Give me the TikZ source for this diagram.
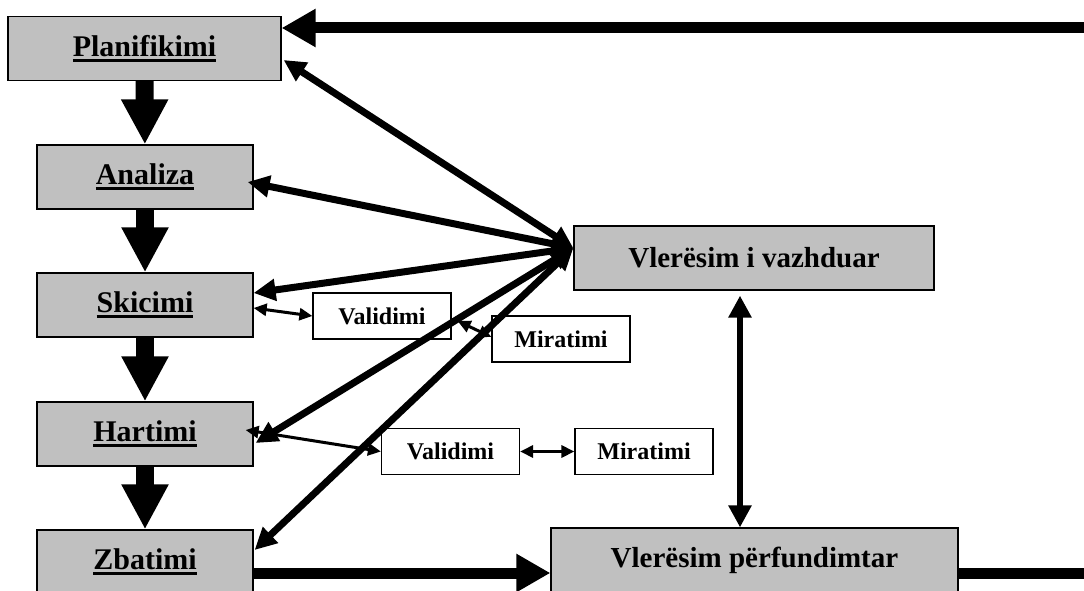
\documentclass[tikz,border=0pt]{standalone}
\usepackage{fontspec}
\setmainfont{Liberation Serif}
\usepackage{tikz}
\usetikzlibrary{arrows.meta}
\definecolor{boxgray}{rgb}{0.753, 0.753, 0.753}
\newcommand{\ulphase}[1]{\setbox0=\hbox{#1}\rlap{\copy0}\rule[-6pt]{\wd0}{3pt}}
\tikzstyle{phasebox}=[draw, line width=1.2pt, fill=boxgray, minimum height=64pt, inner sep=0pt, font=\fontsize{30}{36}\selectfont\bfseries]
\tikzstyle{evalbox}=[phasebox, font=\fontsize{29}{35}\selectfont\bfseries]
\tikzstyle{checkbox}=[draw, line width=1.2pt, fill=white, minimum width=138pt, minimum height=46pt, inner sep=0pt, font=\fontsize{24}{29}\selectfont\bfseries]
\tikzstyle{downarrow}=[line width=18pt, -{Triangle[width=44pt,length=45pt]}]
\tikzstyle{loopline}=[line width=11pt]
\tikzstyle{looparrow}=[loopline, -{Triangle[width=36pt,length=34pt]}]
\tikzstyle{evalarrow}=[line width=7pt, {Triangle[width=21pt,length=22pt]}-{Triangle[width=21pt,length=22pt]}]
\tikzstyle{vertarrow}=[line width=6pt, {Triangle[width=22pt,length=22pt]}-{Triangle[width=22pt,length=22pt]}]
\tikzstyle{checkarrow}=[line width=3pt, {Triangle[width=12pt,length=13pt]}-{Triangle[width=12pt,length=13pt]}]

\begin{document}
\begin{tikzpicture}[x=1pt,y=-1pt]

\useasboundingbox (0,0) rectangle (1084,591);
\clip (0,0) rectangle (1084,591);

\node[phasebox, minimum width=273pt] (plan) at (144.5,48.5) {\ulphase{Planifikimi}};
\node[phasebox, minimum width=216pt] (anal) at (145,177) {\ulphase{Analiza}};
\node[phasebox, minimum width=216pt] (skic) at (145,305) {\ulphase{Skicimi}};
\node[phasebox, minimum width=216pt] (hart) at (145,434) {\ulphase{Hartimi}};
\node[phasebox, minimum width=216pt] (zbat) at (145,562) {\ulphase{Zbatimi}};

\node[evalbox, minimum width=360pt] (vaz) at (754,258) {Vlerësim i vazhduar};
\node[evalbox, minimum width=407pt] (perf) at (754.5,560) {Vlerësim përfundimtar};

\node[checkbox] (val1) at (382,316) {Validimi};
\node[checkbox] (mir1) at (561,339) {Miratimi};
\node[checkbox] (val2) at (450.5,451.5) {Validimi};
\node[checkbox] (mir2) at (644,451.5) {Miratimi};

\draw[downarrow] (plan) -- (anal);
\draw[downarrow] (anal) -- (skic);
\draw[downarrow] (skic) -- (hart);
\draw[downarrow] (hart) -- (zbat);

\coordinate (hub) at ([yshift=10pt]vaz.west);
\draw[evalarrow] (hub) -- ([xshift=2pt,yshift=-11.5pt]plan.east);
\draw[evalarrow] (hub) -- ([xshift=-6pt,yshift=-5pt]anal.east);
\draw[evalarrow] (hub) -- ([yshift=12pt]skic.east);
\draw[evalarrow] (hub) -- ([xshift=2pt,yshift=-9pt]hart.east);
\draw[evalarrow] (hub) -- ([xshift=1pt,yshift=12pt]zbat.east);

\draw[checkarrow] ([yshift=-3pt]skic.east) -- (val1.west);
\draw[checkarrow] ([xshift=6pt,yshift=-5pt]val1.east) -- ([yshift=2pt]mir1.west);
\draw[checkarrow] ([xshift=-8pt,yshift=4pt]hart.east) -- (val2.west);
\draw[checkarrow] (val2) -- (mir2);

\draw[vertarrow, shorten <=5pt] ([xshift=-14pt]vaz.south) -- ([xshift=-14.5pt]perf.north);

\coordinate (loopT) at (1100,28);
\coordinate (loopB) at (1100,573);
\draw[looparrow] (loopT) -- (loopT -| plan.east);
\draw[looparrow] (zbat.east |- loopB) -- (perf.west |- loopB);
\draw[loopline] (perf.east |- loopB) -- (loopB);

\end{tikzpicture}
\end{document}
